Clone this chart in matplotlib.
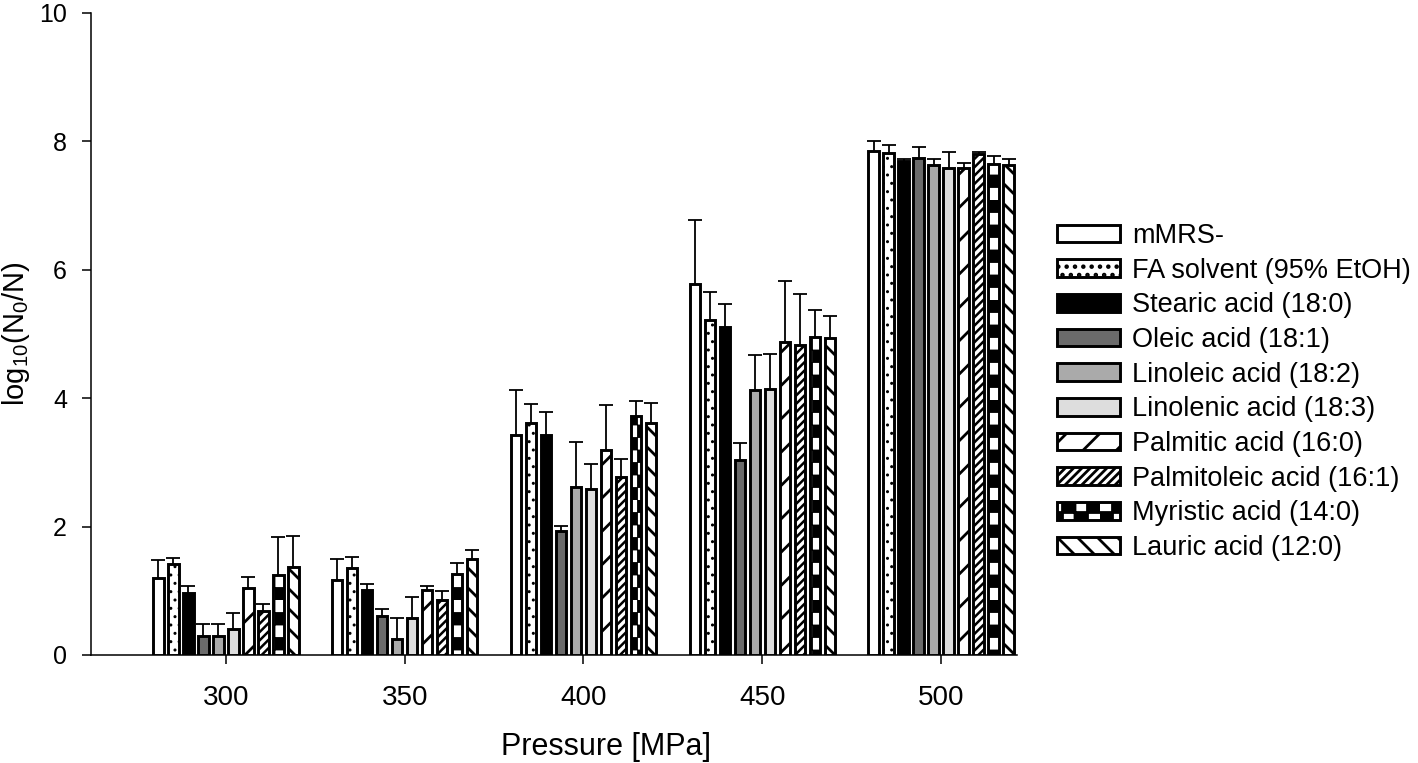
import warnings
warnings.filterwarnings('ignore')
import numpy as np
import matplotlib
matplotlib.use('Agg')
import matplotlib.pyplot as plt
import matplotlib.hatch as mhatch
from matplotlib.path import Path

# ---------------- data ----------------
pressures = ['300', '350', '400', '450', '500']
series_labels = ['mMRS-', 'FA solvent (95% EtOH)', 'Stearic acid (18:0)',
                 'Oleic acid (18:1)', 'Linoleic acid (18:2)',
                 'Linolenic acid (18:3)', 'Palmitic acid (16:0)',
                 'Palmitoleic acid (16:1)', 'Myristic acid (14:0)',
                 'Lauric acid (12:0)']

mean_300 = [1.20, 1.42, 0.97, 0.30, 0.30, 0.41, 1.04, 0.69, 1.24, 1.37]
sd_300 = [0.28, 0.09, 0.10, 0.19, 0.19, 0.25, 0.18, 0.11, 0.60, 0.48]
mean_350 = [1.17, 1.36, 1.01, 0.60, 0.25, 0.57, 1.01, 0.86, 1.26, 1.50]
sd_350 = [0.32, 0.16, 0.09, 0.11, 0.33, 0.33, 0.07, 0.13, 0.18, 0.13]
mean_400 = [3.42, 3.62, 3.42, 1.93, 2.62, 2.58, 3.19, 2.78, 3.72, 3.62]
sd_400 = [0.71, 0.29, 0.37, 0.08, 0.70, 0.39, 0.70, 0.28, 0.24, 0.30]
mean_450 = [5.78, 5.22, 5.11, 3.03, 4.13, 4.14, 4.88, 4.83, 4.96, 4.94]
sd_450 = [0.99, 0.43, 0.35, 0.27, 0.54, 0.55, 0.95, 0.79, 0.42, 0.34]
mean_500 = [7.85, 7.82, 7.69, 7.74, 7.63, 7.59, 7.59, 7.81, 7.65, 7.64]
sd_500 = [0.15, 0.12, 0.03, 0.18, 0.09, 0.24, 0.07, 0.02, 0.12, 0.08]

means = np.array([mean_300, mean_350, mean_400, mean_450, mean_500])
sds = np.array([sd_300, sd_350, sd_400, sd_450, sd_500])

# ---------------- custom hatches ----------------
class _NWSparseHatch(mhatch.HatchPatternBase):
    def __init__(self, hatch, density):
        self.num_lines = 10 * hatch.count('w')
        self.num_vertices = (self.num_lines + 1) * 2 if self.num_lines else 0

    def set_vertices_and_codes(self, vertices, codes):
        steps = np.linspace(-0.5, 0.5, self.num_lines + 1)
        vertices[0::2, 0] = 0.0 + steps
        vertices[0::2, 1] = 1.0 + steps
        vertices[1::2, 0] = 1.0 + steps
        vertices[1::2, 1] = 0.0 + steps
        codes[0::2] = Path.MOVETO
        codes[1::2] = Path.LINETO


class _CheckerHatch(mhatch.HatchPatternBase):
    def __init__(self, hatch, density):
        self.cells = 8 if 'c' in hatch else 0
        self.num_vertices = (self.cells * self.cells // 2) * 5

    def set_vertices_and_codes(self, vertices, codes):
        s = 1.0 / self.cells
        k = 0
        for i in range(self.cells):
            for j in range(self.cells):
                if (i + j) % 2 == 0:
                    x0, y0 = i * s, j * s
                    vertices[k:k + 5] = [[x0, y0], [x0 + s, y0], [x0 + s, y0 + s],
                                         [x0, y0 + s], [x0, y0]]
                    codes[k] = Path.MOVETO
                    codes[k + 1:k + 4] = Path.LINETO
                    codes[k + 4] = Path.CLOSEPOLY
                    k += 5


mhatch._hatch_types.append(_NWSparseHatch)
mhatch._hatch_types.append(_CheckerHatch)

# ---------------- style ----------------
plt.rcParams['font.family'] = ['Liberation Sans', 'DejaVu Sans']
plt.rcParams['mathtext.fontset'] = 'custom'
plt.rcParams['mathtext.rm'] = 'Liberation Sans'
plt.rcParams['mathtext.it'] = 'Liberation Sans'
plt.rcParams['mathtext.default'] = 'regular'
plt.rcParams['hatch.linewidth'] = 2.0
plt.rcParams['hatch.color'] = 'black'

faces = ['white', 'white', 'black', '#6b6b6b', '#aaaaaa', '#dddddd',
         'white', 'white', 'white', 'white']
hatches = [None, '..', None, None, None, None, '/', '////', 'c', 'w']
hatch_lw = [2.0, 1.0, 2.0, 2.0, 2.0, 2.0, 2.0, 1.8, 0.6, 2.0]

W, H = 1418, 763
fig = plt.figure(figsize=(W / 100, H / 100), dpi=100)
ax = fig.add_axes([91 / W, 1 - 655 / H, (1017 - 91) / W, (655 - 13) / H])

x = np.arange(len(pressures))
pitch = 0.0839
bar_w = 0.0576
n = len(series_labels)
handles = []
for i in range(n):
    off = (i - (n - 1) / 2) * pitch
    bars = ax.bar(x + off, means[:, i], width=bar_w, facecolor=faces[i],
                  edgecolor='black', linewidth=2.1, hatch=hatches[i],
                  label=series_labels[i], zorder=3)
    for p in bars.patches:
        if hasattr(p, 'set_hatch_linewidth'):
            p.set_hatch_linewidth(hatch_lw[i])
    handles.append(bars)
    eb = ax.errorbar(x + off, means[:, i],
                     yerr=[np.zeros(len(pressures)), sds[:, i]],
                     fmt='none', ecolor='black', elinewidth=1.3,
                     capsize=5.2, capthick=1.3, zorder=2)
    for cl in eb[1]:
        if np.allclose(cl.get_ydata(), means[:, i]):
            cl.set_visible(False)

ax.set_xlim(-0.755, 4.425)
ax.set_ylim(0, 10)
ax.set_xticks(x)
ax.set_xticklabels(pressures)
ax.set_yticks([0, 2, 4, 6, 8, 10])
ax.spines['top'].set_visible(False)
ax.spines['right'].set_visible(False)
for s in ['left', 'bottom']:
    ax.spines[s].set_linewidth(1.1)
ax.tick_params(axis='both', direction='out', length=6.3, width=1.1)
ax.tick_params(axis='y', labelsize=18, pad=11)
ax.tick_params(axis='x', labelsize=20, pad=15)

ax.set_xlabel('Pressure [MPa]', fontsize=22)
ax.set_ylabel('log$_{10}$(N$_0$/N)', fontsize=21)
ax.xaxis.set_label_coords(0.556, -0.12)
ax.yaxis.set_label_coords(-0.064, 0.5)

leg = fig.legend(handles=handles, labels=series_labels, loc='upper left',
                 bbox_to_anchor=(1057 / W, 1 - 223 / H),
                 bbox_transform=fig.transFigure, frameon=False,
                 borderpad=0, borderaxespad=0, fontsize=19.5,
                 handlelength=2.33, handleheight=0.63, handletextpad=0.44,
                 labelspacing=0.32)
for h in leg.legend_handles:
    if hasattr(h, 'set_linewidth'):
        h.set_linewidth(2.1)

fig.savefig('out.png', dpi=100)
